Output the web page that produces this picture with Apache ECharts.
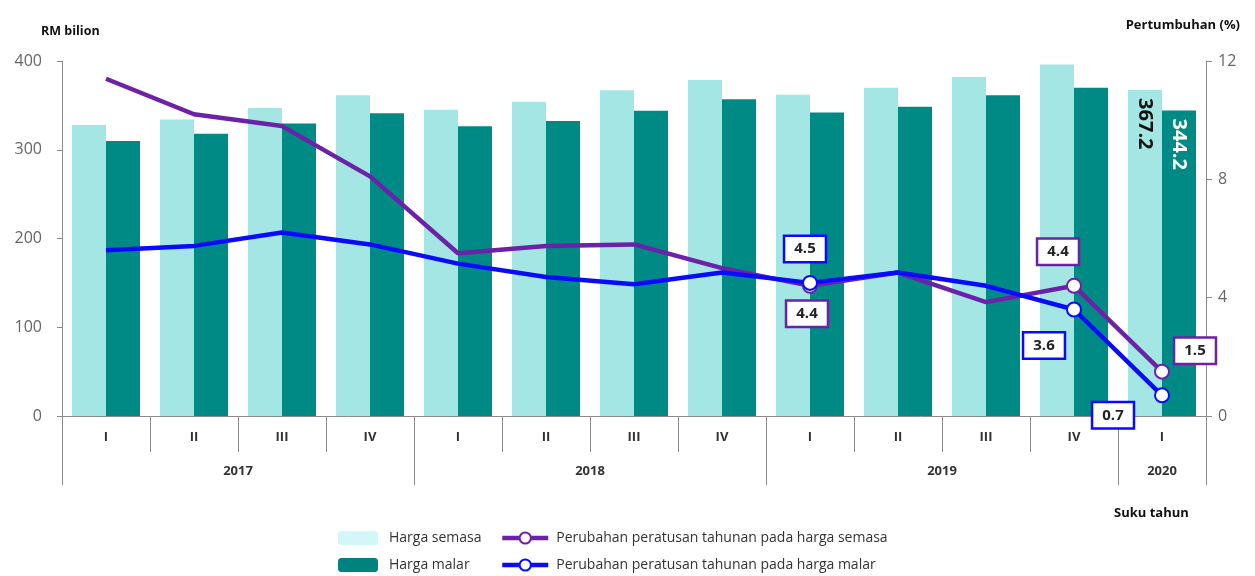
<!DOCTYPE html>
<html><head><meta charset="utf-8">
<script src="https://cdn.jsdelivr.net/npm/echarts@6/dist/echarts.min.js"></script>
<style>html,body{margin:0;padding:0;background:#fff}#c{width:1255px;height:576px}</style>
</head><body><div id="c"></div>
<script>
// ---- data ----
const quarters = ['I','II','III','IV','I','II','III','IV','I','II','III','IV','I'];
const years = ['2017','2018','2019','2020'];
const quartersPerYear = [4,4,4,1];
const hargaSemasa = [328, 334, 347, 361.5, 345, 354, 367, 378.5, 362, 370, 382, 396, 367.2];
const hargaMalar  = [310, 318, 329.5, 341, 326.5, 332.5, 344, 357, 342, 348.5, 361.5, 370, 344.2];
const growthSemasa = [11.4, 10.2, 9.8, 8.1, 5.5, 5.75, 5.8, 5.0, 4.4, 4.85, 3.85, 4.4, 1.5];
const growthMalar  = [5.6, 5.75, 6.2, 5.8, 5.15, 4.7, 4.45, 4.85, 4.5, 4.85, 4.4, 3.6, 0.7];
const leftAxis = {min: 0, max: 400, interval: 100};
const rightAxis = {min: 0, max: 12, interval: 4};
const labelledBarIndex = 12;
const markedIndex = [8, 11, 12];

// ---- build ----
const FONT = 'Open Sans';
const PURPLE = '#6c22a8', BLUE = '#0a0aff';
const LIGHT = '#a3e6e4', DARK = '#008a85';

const yearAxisData = new Array(quarters.length * 2 + 1).fill('');
const yearBounds = new Set([quarters.length * 2]);
let s = 0;
years.forEach((y, k) => {
  yearBounds.add(2 * s);
  yearAxisData[2 * s + quartersPerYear[k]] = y;
  s += quartersPerYear[k];
});

const barLabel = (color) => ({
  show: true, position: 'insideTop', rotate: -90, align: 'left', verticalAlign: 'middle',
  distance: 8, fontSize: 20, fontWeight: 'bold', color: color, fontFamily: FONT, formatter: '{c}'
});
const semasaData = hargaSemasa.map((v, i) => i === labelledBarIndex ? {value: v, label: barLabel('#111')} : v);
const malarData = hargaMalar.map((v, i) => i === labelledBarIndex ? {value: v, label: barLabel('#fff')} : v);

const boxLabel = (border, offset) => ({
  show: true, position: 'inside', offset: offset, formatter: '{c}',
  backgroundColor: '#fff', borderColor: border, borderWidth: 2.5,
  padding: [5, 9, 4, 9], fontSize: 15, fontWeight: 'bold', color: '#222', fontFamily: FONT
});
const purpleOffsets = {8: [-3, 28], 11: [-16, -34], 12: [33, -21]};
const blueOffsets = {8: [-5, -34], 11: [-30, 36], 12: [-49, 20]};
const purpleData = growthSemasa.map((v, i) => purpleOffsets[i] ? {value: v, label: boxLabel(PURPLE, purpleOffsets[i])} : v);
const blueData = growthMalar.map((v, i) => blueOffsets[i] ? {value: v, label: boxLabel(BLUE, blueOffsets[i])} : v);
const symSize = (v, p) => markedIndex.includes(p.dataIndex) ? 14 : 0;

const axisGray = '#8a8a8a';
const legendText = {fontSize: 14, color: '#333', fontFamily: FONT, lineHeight: 16};
const option = {
  animation: false,
  textStyle: {fontFamily: FONT},
  grid: {left: 62, right: 49, top: 61, bottom: 160},
  title: [
    {text: 'RM bilion', left: 36, top: 20, textStyle: {fontSize: 12.5, fontWeight: 'bold', color: '#111', fontFamily: FONT}},
    {text: 'Pertumbuhan (%)', right: 10, top: 14, textStyle: {fontSize: 13, fontWeight: 'bold', color: '#111', fontFamily: FONT}},
    {text: 'Suku tahun', left: 1109, top: 502, textStyle: {fontSize: 13, fontWeight: 'bold', color: '#111', fontFamily: FONT}}
  ],
  legend: [
    {orient: 'vertical', left: 338, top: 530, height: 46, padding: 0, itemWidth: 40, itemHeight: 14, itemGap: 11, selectedMode: false,
     data: [{name: 'Harga semasa', itemStyle: {color: '#d3f6f6'}}, {name: 'Harga malar', itemStyle: {color: '#00827e'}}],
     textStyle: Object.assign({padding: [0, 0, 0, 6]}, legendText)},
    {orient: 'vertical', left: 500, top: 530, height: 46, padding: 0, itemWidth: 46, itemHeight: 14, itemGap: 11, selectedMode: false,
     lineStyle: {width: 4.5},
     data: ['Perubahan peratusan tahunan pada harga semasa', 'Perubahan peratusan tahunan pada harga malar'],
     textStyle: Object.assign({padding: [0, 0, 0, 3]}, legendText)}
  ],
  xAxis: [
    {type: 'category', data: quarters, position: 'bottom', boundaryGap: true,
     axisLine: {lineStyle: {color: axisGray, width: 1}},
     axisTick: {show: true, interval: 0, length: 36, lineStyle: {color: axisGray}},
     axisLabel: {interval: 0, margin: 15, fontSize: 13, fontWeight: 'bold', color: '#333', fontFamily: FONT}},
    {type: 'category', data: yearAxisData, position: 'bottom', boundaryGap: false,
     axisLine: {show: false},
     axisTick: {show: true, length: 69, interval: (i) => yearBounds.has(i), lineStyle: {color: axisGray}},
     axisLabel: {interval: 0, margin: 49, fontSize: 13, fontWeight: 'bold', color: '#333', fontFamily: FONT}}
  ],
  yAxis: [
    {type: 'value', min: leftAxis.min, max: leftAxis.max, interval: leftAxis.interval,
     axisLine: {show: true, lineStyle: {color: axisGray}}, axisTick: {show: true, length: 5, lineStyle: {color: axisGray}},
     splitLine: {show: false}, axisLabel: {margin: 20, fontSize: 16, color: '#666', fontFamily: FONT}},
    {type: 'value', min: rightAxis.min, max: rightAxis.max, interval: rightAxis.interval, position: 'right',
     axisLine: {show: true, lineStyle: {color: axisGray}}, axisTick: {show: true, length: 6, lineStyle: {color: axisGray}},
     splitLine: {show: false}, axisLabel: {margin: 12, fontSize: 16, color: '#666', fontFamily: FONT}}
  ],
  series: [
    {name: 'Harga semasa', type: 'bar', data: semasaData, barWidth: 34, barGap: '0%', itemStyle: {color: LIGHT}},
    {name: 'Harga malar', type: 'bar', data: malarData, barWidth: 34, barGap: '0%', itemStyle: {color: DARK}},
    {name: 'Perubahan peratusan tahunan pada harga semasa', type: 'line', yAxisIndex: 1, data: purpleData,
     symbol: 'emptyCircle', symbolSize: symSize, showAllSymbol: true,
     lineStyle: {color: PURPLE, width: 4.5}, itemStyle: {color: PURPLE, borderWidth: 3}},
    {name: 'Perubahan peratusan tahunan pada harga malar', type: 'line', yAxisIndex: 1, data: blueData,
     symbol: 'emptyCircle', symbolSize: symSize, showAllSymbol: true,
     lineStyle: {color: BLUE, width: 4.5}, itemStyle: {color: BLUE, borderWidth: 3}}
  ]
};
echarts.init(document.getElementById('c')).setOption(option);
</script>
</body></html>
